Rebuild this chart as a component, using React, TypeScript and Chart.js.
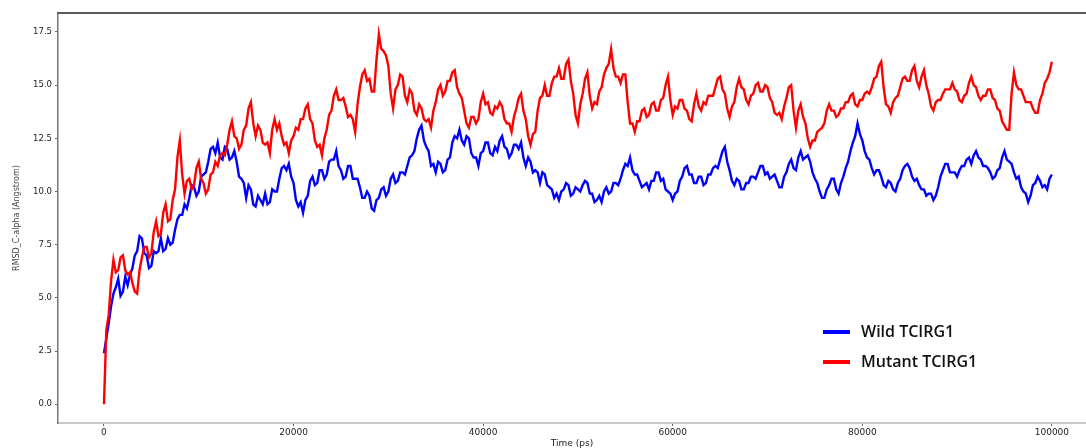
import React, { useEffect, useRef } from "react";
import { Chart, registerables } from "chart.js";

Chart.register(...registerables);

// Sampling interval of the trajectory (ps)
const TIME_STEP_PS = 250;

// RMSD (Angstrom) every 250 ps, 0 .. 100000 ps
const WILD_RMSD = [
  2.4, 3.1, 3.8, 4.6, 5.2, 5.5, 5.9, 5.1, 5.3, 6.0, 5.6, 6.1, 6.4, 7.0, 7.2, 7.9, 7.8, 7.1, 7.0, 6.4,
  6.5, 7.2, 7.1, 7.2, 7.8, 7.2, 7.3, 7.8, 7.5, 7.6, 8.2, 8.7, 8.9, 8.9, 9.4, 9.2, 9.7, 10.3, 10.2, 9.8,
  10.0, 10.7, 10.8, 10.9, 11.4, 12.0, 12.1, 11.8, 12.3, 11.6, 11.5, 12.1, 12.0, 11.5, 11.6, 11.9, 11.4, 10.7, 10.6, 10.4,
  9.7, 10.3, 10.1, 9.4, 9.3, 9.8, 9.6, 9.4, 9.9, 9.4, 9.5, 10.1, 10.0, 10.0, 10.6, 11.1, 11.2, 11.0, 11.3, 10.7,
  10.4, 9.6, 9.3, 9.5, 9.0, 9.6, 9.8, 10.5, 10.7, 10.3, 10.4, 11.0, 11.0, 10.6, 10.8, 11.4, 11.5, 11.5, 11.9, 11.2,
  11.0, 10.6, 10.7, 11.2, 11.2, 10.6, 10.6, 10.6, 10.2, 9.7, 9.7, 10.0, 9.8, 9.2, 9.1, 9.6, 9.7, 10.1, 10.2, 9.8,
  10.0, 10.6, 10.8, 10.4, 10.5, 10.9, 10.9, 10.8, 11.2, 11.6, 11.7, 11.9, 12.5, 12.9, 13.1, 12.4, 12.1, 11.9, 11.2, 11.3,
  10.9, 11.4, 11.3, 10.9, 11.0, 11.5, 11.6, 12.3, 12.6, 12.5, 12.9, 12.4, 12.2, 12.6, 12.5, 11.8, 11.6, 11.6, 11.2, 11.8,
  11.9, 12.3, 12.3, 11.8, 11.7, 12.1, 11.9, 12.4, 12.6, 12.1, 12.0, 11.6, 11.8, 12.2, 12.2, 12.0, 12.3, 11.6, 11.2, 11.6,
  11.4, 10.9, 11.0, 10.9, 10.4, 10.9, 10.8, 10.3, 10.2, 10.1, 9.7, 9.9, 9.6, 10.0, 10.1, 10.4, 10.3, 9.8, 9.9, 10.2,
  10.1, 10.0, 10.3, 10.5, 10.4, 9.9, 9.9, 9.5, 9.6, 9.8, 9.5, 10.0, 10.2, 9.9, 10.0, 10.4, 10.4, 10.3, 10.6, 11.0,
  11.3, 11.2, 11.6, 11.0, 10.8, 10.8, 10.5, 10.2, 10.3, 10.4, 10.1, 10.5, 10.5, 10.9, 10.9, 10.5, 10.6, 10.1, 10.0, 9.9,
  9.6, 9.9, 10.0, 10.5, 10.7, 11.1, 11.2, 10.8, 10.8, 10.4, 10.4, 10.7, 10.7, 10.3, 10.4, 10.8, 10.8, 11.1, 11.2, 11.1,
  11.5, 11.9, 12.1, 11.4, 11.0, 10.5, 10.3, 10.6, 10.5, 10.1, 10.1, 10.4, 10.4, 10.7, 10.7, 10.6, 10.9, 11.2, 11.2, 10.8,
  10.9, 10.6, 10.7, 10.8, 10.5, 10.2, 10.2, 10.7, 10.9, 11.3, 11.5, 11.1, 11.0, 11.6, 11.9, 11.5, 11.6, 11.7, 11.4, 10.9,
  10.6, 10.4, 10.0, 9.7, 9.7, 10.1, 10.3, 10.6, 10.6, 10.1, 9.9, 10.4, 10.7, 11.1, 11.4, 11.9, 12.3, 12.6, 13.2, 12.7,
  12.4, 11.9, 11.6, 11.5, 11.1, 10.8, 11.0, 11.0, 10.7, 10.3, 10.2, 10.5, 10.4, 10.1, 10.0, 10.4, 10.6, 11.0, 11.2, 11.3,
  11.1, 10.7, 10.5, 10.6, 10.3, 10.1, 10.1, 9.8, 9.9, 9.9, 9.6, 9.8, 10.2, 10.7, 11.0, 11.3, 11.3, 10.9, 10.9, 10.9,
  10.7, 11.0, 11.2, 11.2, 11.5, 11.6, 11.3, 11.7, 11.9, 11.6, 11.5, 11.2, 11.2, 11.1, 10.9, 10.6, 10.7, 11.0, 11.1, 11.6,
  11.9, 11.5, 11.4, 11.3, 10.9, 10.6, 10.7, 10.2, 10.0, 9.9, 9.5, 9.8, 10.3, 10.4, 10.7, 10.5, 10.2, 10.3, 10.1, 10.6,
  10.8,
];

const MUTANT_RMSD = [
  0.0, 3.5, 4.2, 5.8, 6.8, 6.2, 6.3, 6.9, 7.0, 6.3, 6.1, 6.2, 5.7, 5.3, 5.2, 6.3, 6.9, 7.4, 7.4, 6.9,
  7.1, 8.1, 8.6, 7.9, 8.0, 9.0, 9.4, 8.6, 8.7, 9.6, 10.1, 11.6, 12.4, 10.8, 9.9, 10.5, 10.6, 10.1, 10.3, 11.1,
  11.4, 10.6, 10.4, 9.9, 10.1, 10.8, 10.9, 11.4, 11.2, 11.7, 11.8, 11.7, 12.2, 12.9, 13.3, 12.6, 12.5, 12.0, 12.2, 12.9,
  13.1, 13.9, 14.2, 13.2, 12.6, 13.1, 12.9, 12.3, 12.2, 12.3, 11.8, 12.9, 13.4, 12.9, 13.2, 12.6, 12.2, 12.3, 11.8, 12.4,
  12.6, 13.0, 12.9, 13.4, 13.4, 13.9, 14.1, 13.4, 13.2, 12.4, 12.1, 12.2, 11.7, 12.5, 12.9, 13.6, 13.8, 14.5, 14.8, 14.3,
  14.3, 14.4, 14.0, 13.5, 13.6, 13.4, 12.8, 14.1, 14.9, 15.5, 15.7, 15.2, 15.3, 14.7, 14.7, 16.2, 17.4, 16.7, 16.6, 16.4,
  15.9, 14.6, 13.9, 14.8, 15.0, 15.5, 15.4, 14.5, 14.2, 14.8, 14.6, 13.8, 13.6, 14.1, 13.9, 13.4, 13.3, 13.4, 13.0, 13.8,
  14.2, 14.8, 15.0, 14.5, 14.7, 15.2, 15.2, 15.6, 15.7, 14.9, 14.6, 14.4, 13.8, 13.2, 13.0, 13.5, 13.5, 13.2, 13.4, 14.2,
  14.6, 14.1, 14.2, 13.7, 13.6, 14.0, 13.9, 14.2, 14.0, 13.4, 13.2, 13.2, 12.8, 13.5, 13.9, 14.4, 14.6, 13.8, 13.4, 12.6,
  12.2, 12.7, 12.8, 13.8, 14.4, 14.5, 15.0, 14.5, 14.5, 15.1, 15.4, 15.4, 15.8, 15.3, 15.3, 16.0, 16.2, 15.2, 14.6, 13.6,
  13.2, 14.1, 14.6, 15.3, 15.6, 14.5, 13.9, 14.2, 14.1, 14.7, 14.9, 15.5, 15.8, 16.0, 16.7, 15.8, 15.4, 15.4, 15.1, 15.5,
  15.5, 14.2, 13.2, 13.2, 12.8, 13.3, 13.3, 13.8, 13.9, 13.5, 13.6, 14.1, 14.2, 13.8, 13.8, 14.3, 14.4, 15.0, 15.4, 14.3,
  13.6, 14.0, 13.9, 14.3, 14.3, 13.9, 13.8, 13.4, 13.3, 14.1, 14.6, 14.0, 13.8, 14.2, 14.1, 14.5, 14.5, 14.5, 14.9, 15.3,
  15.4, 14.8, 14.6, 13.9, 13.5, 14.0, 14.2, 14.9, 15.3, 14.9, 14.8, 14.3, 14.1, 14.5, 14.6, 15.0, 15.1, 14.7, 14.7, 15.0,
  14.9, 14.4, 14.2, 13.7, 13.6, 13.7, 13.4, 14.0, 14.4, 14.9, 15.0, 13.8, 13.0, 13.8, 14.1, 13.5, 13.2, 12.5, 12.1, 12.4,
  12.4, 12.8, 12.9, 13.0, 13.2, 13.8, 14.1, 13.8, 13.8, 13.5, 13.6, 13.9, 13.9, 14.2, 14.2, 14.5, 14.6, 14.1, 14.0, 14.3,
  14.3, 14.6, 14.7, 14.6, 14.9, 15.3, 15.4, 15.9, 16.1, 14.9, 14.1, 14.0, 13.7, 14.2, 14.4, 14.5, 14.9, 15.3, 15.4, 15.2,
  15.2, 15.7, 15.9, 15.2, 14.9, 15.4, 15.7, 15.0, 14.6, 14.0, 13.8, 14.2, 14.3, 14.3, 14.6, 14.8, 14.8, 14.8, 15.1, 14.8,
  14.7, 14.3, 14.2, 14.5, 14.6, 15.1, 15.4, 15.0, 14.9, 14.5, 14.3, 14.5, 14.5, 14.8, 14.8, 14.4, 14.3, 13.9, 13.8, 13.3,
  13.1, 12.9, 12.9, 14.6, 15.6, 15.0, 14.8, 14.8, 14.5, 14.2, 14.2, 14.2, 13.9, 13.7, 13.7, 14.3, 14.6, 15.1, 15.3, 15.6,
  16.1,
];

const SERIES_LABELS = ["Wild TCIRG1", "Mutant TCIRG1"];
const SERIES_COLORS = ["#0000ff", "#ff0000"];

const X_TICKS = [0, 20000, 40000, 60000, 80000, 100000];
const Y_TICKS = [0, 2.5, 5, 7.5, 10, 12.5, 15, 17.5];

const X_TITLE = "Time (ps)";
const Y_TITLE = "RMSD_C-alpha (Angstrom)";

const topSpine = {
  id: "topSpine",
  afterDraw(chart: any) {
    const { ctx, chartArea } = chart;
    ctx.save();
    ctx.strokeStyle = "#5a5a5a";
    ctx.lineWidth = 2;
    ctx.beginPath();
    ctx.moveTo(chartArea.left - 1, chartArea.top);
    ctx.lineTo(chartArea.right, chartArea.top);
    ctx.stroke();
    ctx.restore();
  },
};

const innerLegend = {
  id: "innerLegend",
  afterDraw(chart: any) {
    const { ctx, chartArea } = chart;
    const x0 = chartArea.left + 765;
    const y0 = chartArea.top + 319;
    ctx.save();
    ctx.font = "600 16px 'Open Sans'";
    ctx.textBaseline = "middle";
    SERIES_LABELS.forEach((label, i) => {
      const y = y0 + i * 30;
      ctx.strokeStyle = SERIES_COLORS[i];
      ctx.lineWidth = 4;
      ctx.beginPath();
      ctx.moveTo(x0, y);
      ctx.lineTo(x0 + 27, y);
      ctx.stroke();
      ctx.fillStyle = "#111111";
      ctx.fillText(label, x0 + 38, y);
    });
    ctx.restore();
  },
};

export default function App() {
  const canvasRef = useRef<HTMLCanvasElement | null>(null);

  useEffect(() => {
    document.body.style.margin = "0";
    const canvas = canvasRef.current;
    if (!canvas) return;
    const series = [WILD_RMSD, MUTANT_RMSD];
    const chart = new Chart(canvas, {
      type: "line",
      data: {
        datasets: series.map((vals, i) => ({
          label: SERIES_LABELS[i],
          data: vals.map((v, k) => ({ x: k * TIME_STEP_PS, y: v })),
          borderColor: SERIES_COLORS[i],
          backgroundColor: SERIES_COLORS[i],
          borderWidth: 2.4,
          pointRadius: 0,
          tension: 0,
          order: i === 1 ? 0 : 1,
        })),
      },
      options: {
        animation: false,
        responsive: false,
        devicePixelRatio: 1,
        layout: { padding: { top: 13, left: 0, right: 0, bottom: 0 } },
        plugins: {
          legend: { display: false },
          tooltip: { enabled: false },
        },
        scales: {
          x: {
            type: "linear",
            min: -4850,
            max: 103600,
            afterBuildTicks: (s: any) => {
              s.ticks = X_TICKS.map((v) => ({ value: v }));
            },
            afterFit: (s: any) => {
              s.height = 25;
            },
            ticks: {
              autoSkip: false,
              maxRotation: 0,
              padding: 1,
              color: "#222",
              font: { family: "'DejaVu Sans'", size: 9 },
              callback: (v: any) => String(v),
            },
            grid: {
              drawOnChartArea: false,
              drawTicks: true,
              tickLength: 3,
              color: "#666",
            },
            border: { display: true, color: "#c8c8c8", width: 2 },
            title: {
              display: true,
              text: X_TITLE,
              color: "#222",
              font: { family: "'DejaVu Sans'", size: 9 },
              padding: { top: 0, bottom: -1 },
            },
          },
          y: {
            type: "linear",
            min: -0.88,
            max: 18.39,
            afterBuildTicks: (s: any) => {
              s.ticks = Y_TICKS.map((v) => ({ value: v }));
            },
            afterFit: (s: any) => {
              s.width = 58;
            },
            ticks: {
              padding: 3,
              color: "#222",
              font: { family: "'DejaVu Sans'", size: 8.5 },
              callback: (v: any) => Number(v).toFixed(1),
            },
            grid: {
              drawOnChartArea: false,
              drawTicks: true,
              tickLength: 3,
              color: "#666",
            },
            border: { display: true, color: "#777", width: 1.5 },
            title: {
              display: true,
              text: Y_TITLE,
              color: "#444",
              font: { family: "'DejaVu Sans'", size: 8 },
              padding: { top: 12, bottom: 0 },
            },
          },
        },
      },
      plugins: [topSpine, innerLegend],
    });
    return () => chart.destroy();
  }, []);

  return (
    <div style={{ position: "absolute", left: 0, top: 0, width: 1086, height: 448, background: "#fff" }}>
      <canvas ref={canvasRef} width={1086} height={448} />
    </div>
  );
}
